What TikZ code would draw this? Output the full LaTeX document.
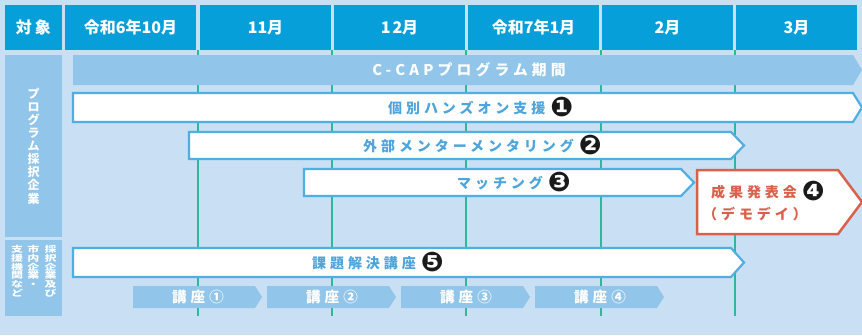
\documentclass[tikz,border=0pt]{standalone}
\usepackage{fontspec}
\setmainfont{Noto Sans CJK JP}
\newfontfamily\jp{Noto Sans CJK JP}[LetterSpace=28]
\newfontfamily\jpside{Noto Sans CJK JP}
\newfontfamily\dingfont{DejaVu Sans}
\definecolor{bgblue}{HTML}{C9DFF3}
\definecolor{headblue}{HTML}{079FDA}
\definecolor{paleblue}{HTML}{91C5EA}
\definecolor{barblue}{HTML}{4FAEE2}
\definecolor{txtblue}{HTML}{4DA5DB}
\definecolor{gridgreen}{HTML}{2DB89B}
\definecolor{demored}{HTML}{D9604A}
\definecolor{dingblack}{HTML}{1A1A1A}
\newcommand{\blackno}[1]{\hspace{5pt}{\dingfont\fontsize{27}{27}\selectfont\color{dingblack}\raisebox{-3pt}{#1}}}
\newcommand{\squashcol}[1]{\scalebox{1}[0.7]{\parbox{14pt}{\centering #1}}}

\begin{document}
\begin{tikzpicture}[x=1pt,y=-1pt,
    headtext/.style={text=white,font=\bfseries\fontsize{16}{16}\selectfont,inner sep=0pt},
    sidetext/.style={text=white,font=\jpside\bfseries\fontsize{12}{13.1}\selectfont,align=center,inner sep=0pt},
    smallside/.style={text=white,font=\jpside\bfseries\fontsize{12}{12.6}\selectfont,inner sep=0pt,anchor=north},
    gridline/.style={draw=gridgreen,line width=1.1pt},
    barline/.style={draw=barblue,line width=2.2pt,fill=white,line join=miter},
    bartext/.style={text=txtblue,font=\jp\bfseries\fontsize{14}{14}\selectfont,anchor=west,inner sep=0pt},
    demotext/.style={text=demored,font=\jp\bfseries\fontsize{14}{14}\selectfont,anchor=west,inner sep=0pt},
    lecturetext/.style={text=white,font=\jp\bfseries\fontsize{14.5}{14.5}\selectfont,inner sep=0pt}]
    % Background
    \fill[bgblue] (0,0) rectangle (862,335);
    \useasboundingbox (0,0) rectangle (862,335);

    % Header cells
    \foreach \xa/\xb/\t [count=\i] in {5/62/対\hspace{3pt}象, 65/196/令和6年10月, 200/331/11月,
        334/465/1\hspace{2pt}2月, 468/599/令和7年1月, 602/733/2月, 736/857/3月} {
        \fill[headblue] (\xa,5) rectangle (\xb,50);
        \node[headtext] (H\i) at ({(\xa+\xb)/2},27.5) {\t};
    }

    % Left labels
    \fill[paleblue] (5,55) rectangle (62,237);
    \fill[paleblue] (5,240) rectangle (62,316);
    \node[sidetext] (side1) at (33.5,146) {プ\\ロ\\グ\\ラ\\ム\\採\\択\\企\\業};
    \node[smallside] (side2a) at (50.5,245) {\squashcol{採\\択\\企\\業\\及\\び}};
    \node[smallside] (side2b) at (33.5,245) {\squashcol{市\\内\\企\\業\\・\\\phantom{業}}};
    \node[smallside] (side2c) at (17,245) {\squashcol{支\\援\\機\\関\\な\\ど}};

    % Month lines
    \foreach \x in {198,332,466,601,735} {
        \draw[gridline] (\x,50) -- (\x,316);
    }

    % Program period
    \fill[paleblue] (73,55) -- (853,55) -- (862,70) -- (853,85) -- (73,85) -- cycle;
    \node[text=white,font=\jp\bfseries\fontsize{14.8}{14.8}\selectfont,inner sep=0pt] (period) at (469,70) {C-CAPプログラム期間};

    % Bars
    \draw[barline] (73,93) -- (853,93) -- (862,107.5) -- (853,122) -- (73,122) -- cycle;
    \node[bartext] (hands) at (388,107.5) {個別ハンズオン支援\blackno{❶}};
    \draw[barline] (189,132) -- (731,132) -- (744,145.5) -- (731,159) -- (189,159) -- cycle;
    \node[bartext] (mentor) at (363,145.5) {外部メンターメンタリング\blackno{❷}};
    \draw[barline] (304,169) -- (681,169) -- (694,182.5) -- (681,196) -- (304,196) -- cycle;
    \node[bartext] (match) at (457,182.5) {マッチング\blackno{❸}};
    \draw[barline] (73,248) -- (731,248) -- (744,262.5) -- (731,277) -- (73,277) -- cycle;
    \node[bartext] (kadai) at (312,262.5) {課題解決講座\blackno{❺}};

    % Demo day
    \draw[draw=demored,line width=2.5pt,fill=white] (697,170) -- (838,170) -- (862,202) -- (838,234) -- (697,234) -- cycle;
    \node[demotext] (demo) at (711,191) {成果発表会\blackno{❹}};
    \node[demotext] (demoday) at (703,214) {（デモデイ）};

    % Lectures
    \foreach \t [count=\i] in {①,②,③,④} {
        \fill[paleblue] ({133+134*(\i-1)},286) -- ({255+134*(\i-1)},286) -- ({262+134*(\i-1)},297)
            -- ({255+134*(\i-1)},308) -- ({133+134*(\i-1)},308) -- cycle;
        \node[lecturetext] (lec\i) at ({198+134*(\i-1)},297) {講座\t};
    }
\end{tikzpicture}
\end{document}
